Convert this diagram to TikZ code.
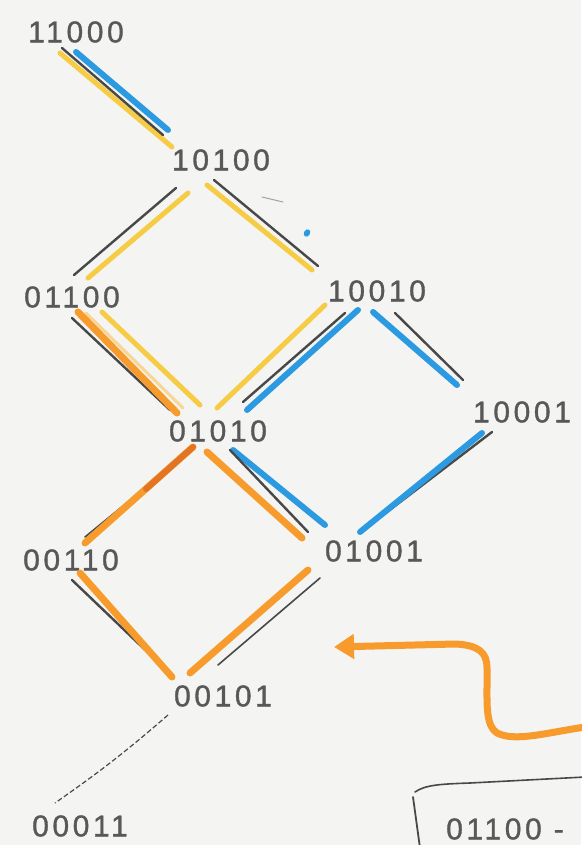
\documentclass[tikz,border=0pt]{standalone}
\usepackage{fontspec}
\usetikzlibrary{calc,arrows.meta}
\newfontfamily\digits[LetterSpace=12,FakeBold=1.2]{Liberation Sans}
\definecolor{paper}{RGB}{244,244,243}
\definecolor{ink}{RGB}{88,88,88}
\definecolor{pen}{RGB}{72,72,72}
\definecolor{hlyellow}{RGB}{246,204,68}
\definecolor{hlblue}{RGB}{44,154,224}
\definecolor{hlorange}{RGB}{247,156,44}
\definecolor{hldark}{RGB}{226,116,36}
\definecolor{hlpale}{RGB}{248,214,150}
\tikzset{
  lbl/.style={font=\digits\fontsize{30}{30}\selectfont, text=ink, inner sep=0pt},
  ystroke/.style={draw=hlyellow, line width=5pt, line cap=round},
  bstroke/.style={draw=hlblue, line width=6pt, line cap=round},
  ostroke/.style={draw=hlorange, line width=7pt, line cap=round},
  dostroke/.style={draw=hldark, line width=6pt, line cap=round},
  pstroke/.style={draw=hlpale, line width=3pt, line cap=round},
  gstroke/.style={draw=pen, line width=2.4pt, line cap=round},
  thinpen/.style={draw=pen, line width=1.6pt, line cap=round},
}
\newcommand\stk[5]{\draw[#1] ($(#2)+(#3)$) -- ($(#4)+(#5)$);}
\begin{document}
\begin{tikzpicture}[x=1pt,y=-1pt]
\fill[paper] (0,0) rectangle (581,845);
\useasboundingbox (0,0) rectangle (581,845);
% nodes
\node[lbl] (n11000) at (76,32) {11000};
\node[lbl] (n10100) at (221,160) {10100};
\node[lbl] (n01100) at (72,297) {01100};
\node[lbl] (n10010) at (377,291) {10010};
\node[lbl] (n01010) at (218,431) {01010};
\node[lbl] (n10001) at (522,412) {10001};
\node[lbl] (n00110) at (71,560) {00110};
\node[lbl] (n01001) at (374,551) {01001};
\node[lbl] (n00101) at (223,696) {00101};
\node[lbl] (n00011) at (80,826) {00011};
\node[lbl, anchor=west] (nbox) at (446,829) {01100 -};
% E1 11000-10100
\stk{ystroke}{n11000}{-16,21}{n10100}{-49,-13}
\stk{bstroke}{n11000}{0,20}{n10100}{-53,-30}
\stk{gstroke}{n11000}{-14,16}{n10100}{-58,-25}
% E2 10100-01100
\stk{gstroke}{n10100}{-45,28}{n01100}{2,-22}
\stk{ystroke}{n10100}{-33,33}{n01100}{16,-19}
% E3 10100-10010
\stk{ystroke}{n10100}{-14,25}{n10010}{-65,-21}
\stk{gstroke}{n10100}{-7,20}{n10010}{-59,-25}
% E4 01100-01010
\stk{gstroke}{n01100}{0,21}{n01010}{-48,-21}
\stk{pstroke}{n01100}{14,16}{n01010}{-35,-23}
\stk{ostroke}{n01100}{6,15}{n01010}{-41,-18}
\stk{ystroke}{n01100}{30,15}{n01010}{-18,-26}
% E5 10010-01010
\stk{ystroke}{n10010}{-52,14}{n01010}{-1,-23}
\stk{gstroke}{n10010}{-32,22}{n01010}{25,-29}
\stk{bstroke}{n10010}{-19,19}{n01010}{29,-21}
% E6 10010-10001
\stk{gstroke}{n10010}{18,22}{n10001}{-59,-32}
\stk{bstroke}{n10010}{-4,21}{n10001}{-65,-27}
% E7 10001-01001
\stk{gstroke}{n10001}{-30,20}{n01001}{-4,-26}
\stk{bstroke}{n10001}{-40,21}{n01001}{-14,-19}
% E8 01010-00110
\stk{thinpen}{n01010}{-78,61}{n00110}{14,-23}
\stk{ostroke}{n01010}{-25,16}{n00110}{14,-17}
\stk{dostroke}{n01010}{-25,16}{n01010}{-72,58}
% E9 01010-01001
\stk{bstroke}{n01010}{15,19}{n01001}{-49,-26}
\stk{gstroke}{n01010}{12,19}{n01001}{-66,-19}
\stk{ostroke}{n01010}{-11,21}{n01001}{-72,-13}
% E10 00110-00101
\stk{gstroke}{n00110}{1,20}{n00101}{-60,-29}
\stk{ostroke}{n00110}{9,13}{n00101}{-51,-19}
% E11 01001-00101
\stk{thinpen}{n01001}{-54,27}{n00101}{-5,-31}
\stk{ostroke}{n01001}{-66,19}{n00101}{-33,-23}
% E12 00101-00011 dashed
\draw[draw=pen, line width=1.2pt, dash pattern=on 5pt off 2.5pt]
  ($(n00101)+(-55,19)$) to[bend left=3] ($(n00011)+(-25,-23)$);
% stray marks
\fill[hlblue] (307,233) ellipse [x radius=3pt, y radius=4pt, rotate=-30];
\draw[draw=pen!50, line width=1pt, line cap=round] (262,197) -- (283,202);
% wavy arrow
\coordinate (arrowtail) at (585,727);
\coordinate (arrowtip) at (334,647);
\draw[draw=hlorange, line width=7pt, line cap=round, line join=round,
      -{Triangle[length=20pt,width=24pt]}]
  (arrowtail) .. controls (545,733) and (515,742) .. (497,733)
  .. controls (486,726) and (487,705) .. (487,685)
  -- (487,668) .. controls (487,652) and (478,645) .. (455,644)
  -- (arrowtip);
% box
\coordinate (boxtl) at (415,792);
\coordinate (boxtr) at (585,777);
\coordinate (boxbl) at (420,848);
\draw[draw=pen, line width=1.6pt, line cap=round]
  (boxtl) .. controls (425,785) and (440,784) .. (470,783) -- (boxtr);
\draw[draw=pen, line width=1.8pt, line cap=round] (413,797) -- (boxbl);
\end{tikzpicture}
\end{document}
